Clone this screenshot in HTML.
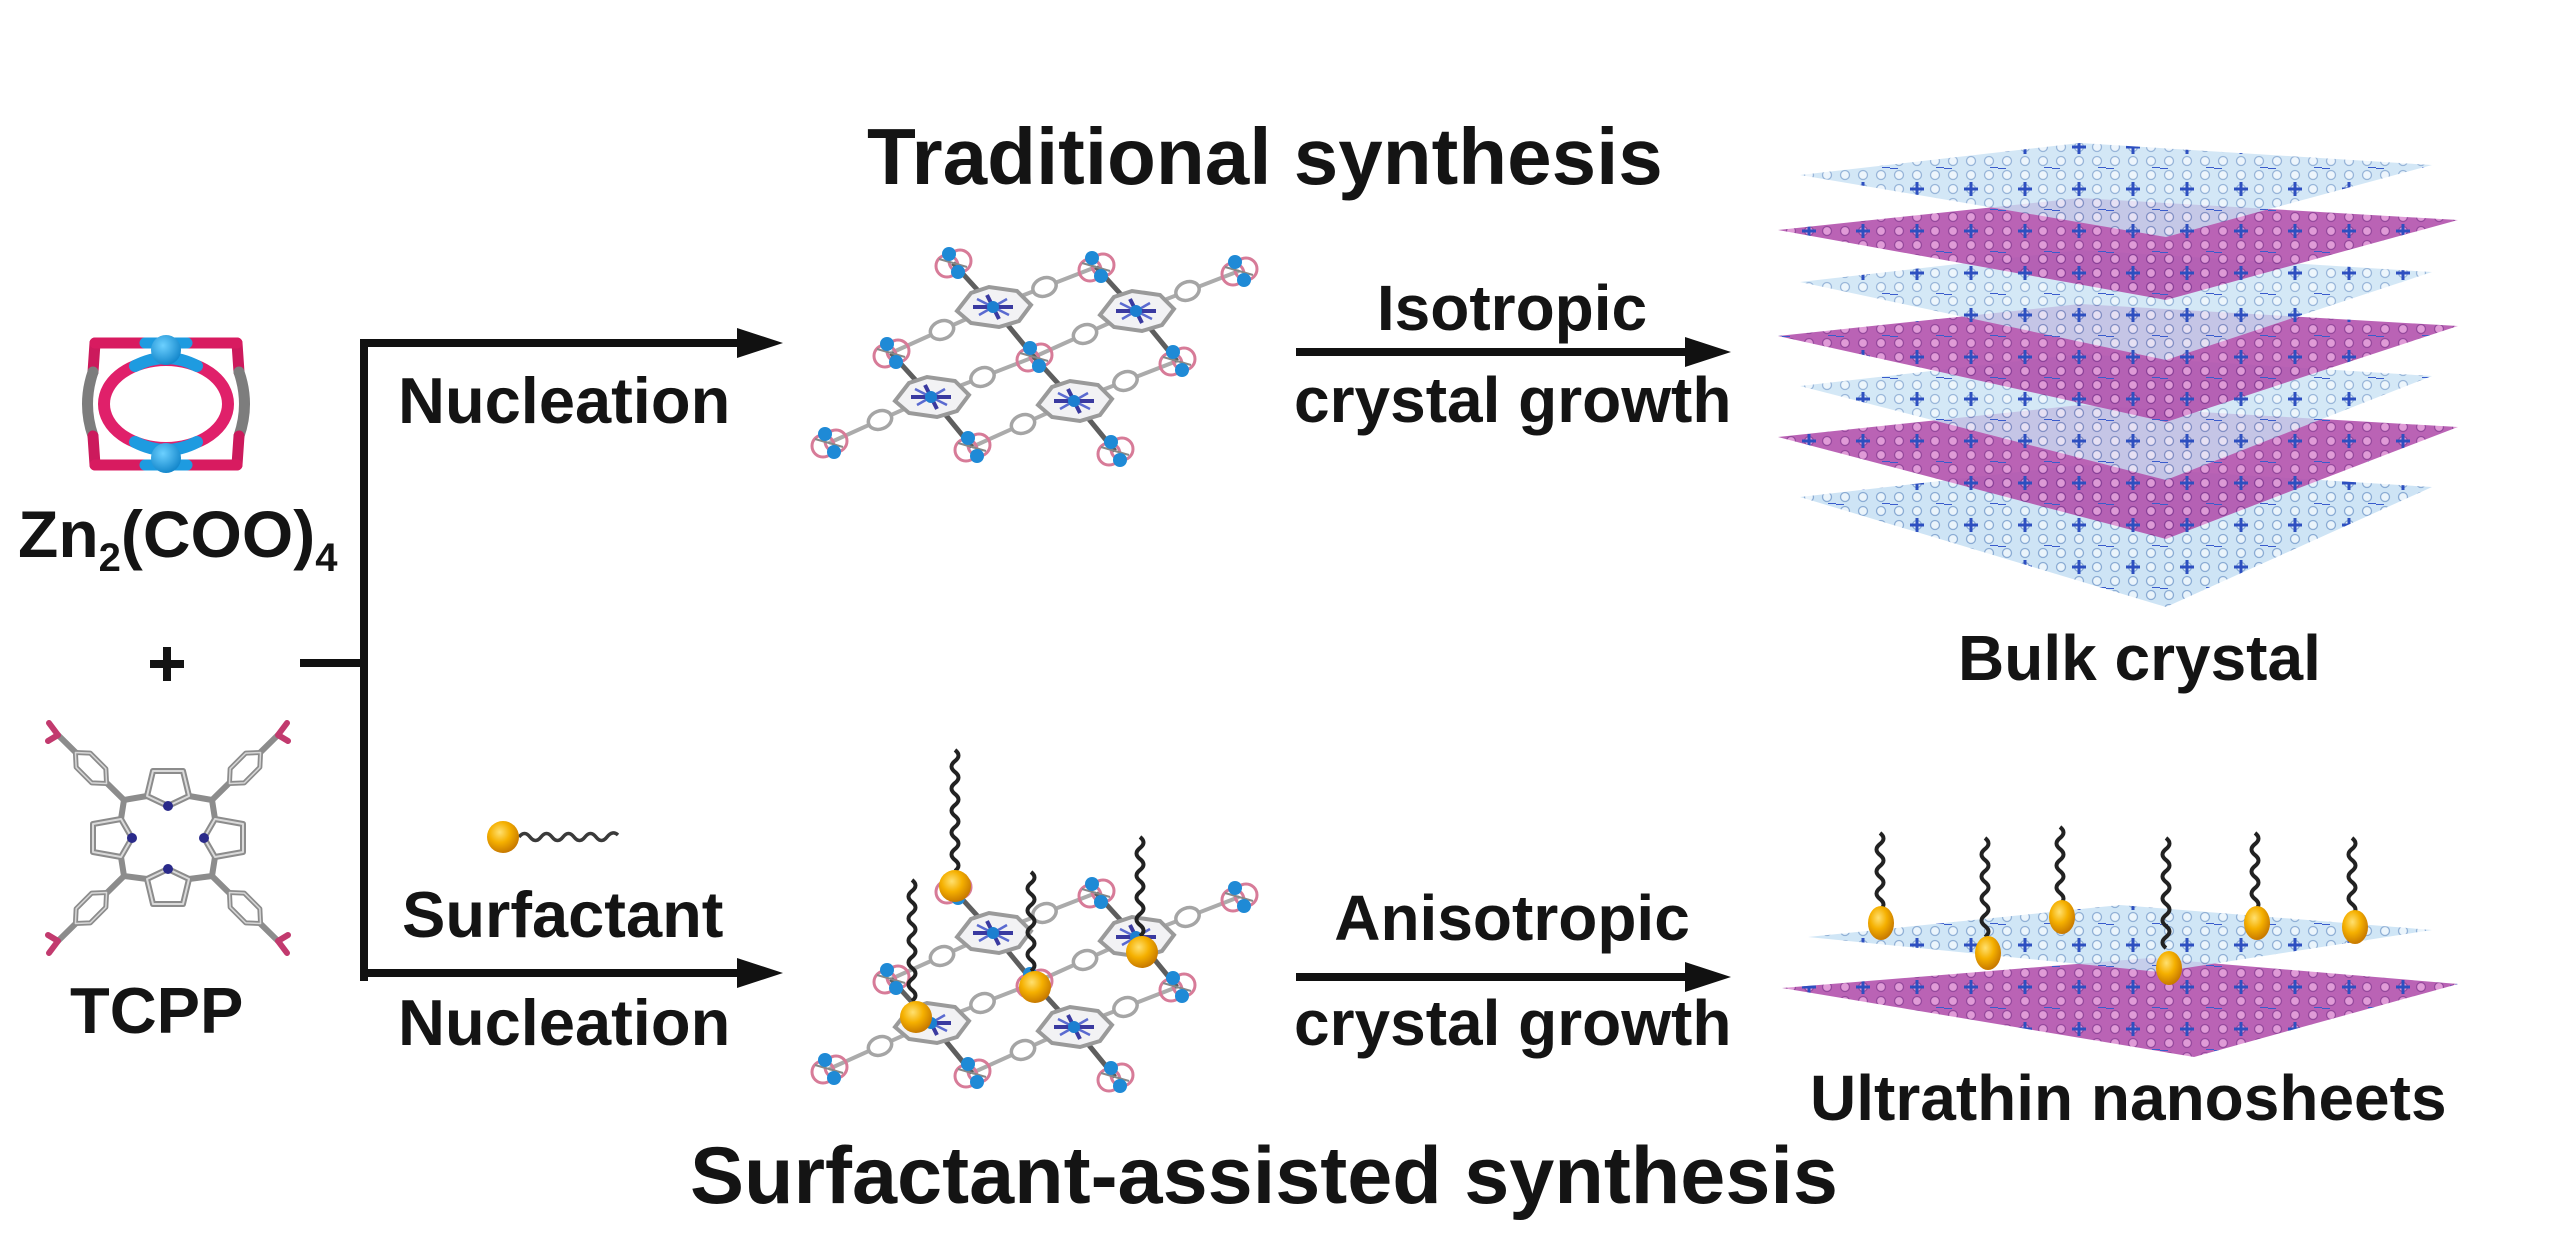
<!DOCTYPE html>
<html>
<head>
<meta charset="utf-8">
<style>
html,body{margin:0;padding:0;background:#fff;}
body{width:2560px;height:1250px;overflow:hidden;}
svg{display:block;}
text{font-family:"Liberation Sans",Arial,sans-serif;font-weight:bold;fill:#141414;}
</style>
</head>
<body>
<svg width="2560" height="1250" viewBox="0 0 2560 1250" xmlns="http://www.w3.org/2000/svg">
<defs>
  <radialGradient id="gold" cx="40%" cy="35%" r="65%">
    <stop offset="0" stop-color="#ffe070"/>
    <stop offset="0.5" stop-color="#f5b000"/>
    <stop offset="1" stop-color="#c87a00"/>
  </radialGradient>
  <radialGradient id="zn" cx="40%" cy="35%" r="65%">
    <stop offset="0" stop-color="#6cd0ff"/>
    <stop offset="1" stop-color="#1588cc"/>
  </radialGradient>
  <pattern id="pkp" width="18" height="14" patternUnits="userSpaceOnUse">
    <rect width="18" height="14" fill="#b252ad"/>
    <circle cx="9" cy="7" r="4.5" fill="#dc90d2" stroke="#8a3592" stroke-width="1.3"/>
  </pattern>
  <pattern id="blp" width="18" height="14" patternUnits="userSpaceOnUse">
    <rect width="18" height="14" fill="#c8e1f4"/>
    <circle cx="9" cy="7" r="4.5" fill="#e8f3fb" stroke="#7ea3cf" stroke-width="1.3"/>
  </pattern>
  <pattern id="bxp" width="54" height="42" patternUnits="userSpaceOnUse">
    <path d="M20,21 L34,21 M27,14 L27,28" stroke="#2d4fc0" stroke-width="3"/>
    <path d="M0,0 L8,0 M46,42 L54,42" stroke="#3a5ccc" stroke-width="2"/>
  </pattern>

  <g id="pw">
    <circle cx="-6" cy="3" r="11" fill="none" stroke="#d77b98" stroke-width="3"/>
    <circle cx="7" cy="-2" r="11" fill="none" stroke="#d77b98" stroke-width="3"/>
    <path d="M-14,-4 L14,4" stroke="#888" stroke-width="2"/>
    <circle cx="-4" cy="-9" r="7" fill="#1f8ad6"/>
    <circle cx="5" cy="9" r="7" fill="#1f8ad6"/>
  </g>
  <g id="por">
    <path d="M-36,4 L-22,-14 L-4,-20 L24,-16 L38,-2 L26,14 L6,20 L-22,16 Z" fill="#f2f2f4" stroke="#9a9a9a" stroke-width="4"/>
    <path d="M-20,0 L20,0 M-6,-12 L6,12" stroke="#3a3aa0" stroke-width="4"/>
    <path d="M-16,-8 L16,8 M-14,8 L14,-8" stroke="#5a6ad0" stroke-width="2.5"/>
    <circle r="6" fill="#1c7fd0"/>
  </g>
  <g id="ring">
    <ellipse rx="12" ry="9" transform="rotate(-21)" fill="#fff" stroke="#a5a5a5" stroke-width="3.5"/>
  </g>
  <g id="nuc">
    <path d="M0,0 L103,-40 M0,0 L-102,46 M143,4 L246,-36 M143,4 L41,50 M-62,90 L41,50 M-62,90 L-164,136 M81,94 L184,54 M81,94 L-21,140" stroke="#ababab" stroke-width="4" fill="none"/>
    <path d="M0,0 L-40,-44 M0,0 L41,50 M143,4 L103,-40 M143,4 L184,54 M-62,90 L-102,46 M-62,90 L-21,140 M81,94 L41,50 M81,94 L122,144" stroke="#5e5e5e" stroke-width="5" fill="none"/>
    <use href="#ring" x="51.5" y="-20"/>
    <use href="#ring" x="-51" y="23"/>
    <use href="#ring" x="194.5" y="-16"/>
    <use href="#ring" x="92" y="27"/>
    <use href="#ring" x="-10.5" y="70"/>
    <use href="#ring" x="-113" y="113"/>
    <use href="#ring" x="132.5" y="74"/>
    <use href="#ring" x="30" y="117"/>
    <use href="#por" x="0" y="0"/>
    <use href="#por" x="143" y="4"/>
    <use href="#por" x="-62" y="90"/>
    <use href="#por" x="81" y="94"/>
    <use href="#pw" x="-40" y="-44"/>
    <use href="#pw" x="103" y="-40"/>
    <use href="#pw" x="246" y="-36"/>
    <use href="#pw" x="-102" y="46"/>
    <use href="#pw" x="41" y="50"/>
    <use href="#pw" x="184" y="54"/>
    <use href="#pw" x="-164" y="136"/>
    <use href="#pw" x="-21" y="140"/>
    <use href="#pw" x="122" y="144"/>
  </g>
  <polygon id="hex" points="-22,0 -11,-10 11,-10 22,0 11,10 -11,10"/>
</defs>

<!-- ===== Titles ===== -->
<text x="867" y="184" font-size="80">Traditional synthesis</text>
<text x="690" y="1203" font-size="81">Surfactant-assisted synthesis</text>

<!-- ===== Zn2(COO)4 paddle wheel icon ===== -->
<g fill="none" stroke-linecap="round">
  <path d="M95,343 L93,372" stroke="#cc1a5c" stroke-width="11"/>
  <path d="M93,372 Q82,404 93,436" stroke="#7d7d7d" stroke-width="11"/>
  <path d="M93,436 L95,465" stroke="#cc1a5c" stroke-width="11"/>
  <path d="M237,343 L239,372" stroke="#cc1a5c" stroke-width="11"/>
  <path d="M239,372 Q250,404 239,436" stroke="#7d7d7d" stroke-width="11"/>
  <path d="M239,436 L237,465" stroke="#cc1a5c" stroke-width="11"/>
  <path d="M95,343 L145,343 M187,343 L237,343" stroke="#d81b60" stroke-width="11"/>
  <path d="M145,343 L187,343" stroke="#1e9be0" stroke-width="11"/>
  <path d="M95,465 L145,465 M187,465 L237,465" stroke="#d81b60" stroke-width="11"/>
  <path d="M145,465 L187,465" stroke="#1e9be0" stroke-width="11"/>
  <ellipse cx="166" cy="404" rx="62" ry="44" stroke="#e0206a" stroke-width="12"/>
  <path d="M135,366 Q166,350 197,366" stroke="#1e9be0" stroke-width="12"/>
  <path d="M135,442 Q166,458 197,442" stroke="#1e9be0" stroke-width="12"/>
</g>
<circle cx="166" cy="350" r="15" fill="url(#zn)"/>
<circle cx="166" cy="458" r="15" fill="url(#zn)"/>

<text x="18" y="557" font-size="66">Zn<tspan font-size="40" dy="14">2</tspan><tspan dy="-14">(COO)</tspan><tspan font-size="40" dy="14">4</tspan></text>

<!-- plus sign -->
<rect x="150" y="660" width="34" height="8" fill="#141414"/>
<rect x="163" y="647" width="8" height="34" fill="#141414"/>

<!-- ===== TCPP molecule ===== -->
<g fill="none" stroke-linejoin="round" stroke-linecap="round">
  <g stroke="#8c8c8c" stroke-width="6">
    <path d="M168,806 L147,796 L153,771 L183,771 L189,796 Z"/>
    <path d="M168,869 L147,879 L153,904 L183,904 L189,879 Z"/>
    <path d="M132,838 L121,819 L93,824 L93,852 L121,857 Z"/>
    <path d="M204,838 L215,819 L243,824 L243,852 L215,857 Z"/>
    <path d="M147,796 L124,800 L121,819 M189,796 L212,800 L215,819 M147,879 L124,876 L121,857 M189,879 L212,876 L215,857"/>
    <path d="M124,800 L58,735 M212,800 L278,735 M124,876 L58,941 M212,876 L278,941"/>
  </g>
  <g stroke="#dadada" stroke-width="2">
    <path d="M168,806 L147,796 L153,771 L183,771 L189,796 Z"/>
    <path d="M168,869 L147,879 L153,904 L183,904 L189,879 Z"/>
    <path d="M132,838 L121,819 L93,824 L93,852 L121,857 Z"/>
    <path d="M204,838 L215,819 L243,824 L243,852 L215,857 Z"/>
  </g>
  <g fill="#fff" stroke="#8c8c8c" stroke-width="5">
    <use href="#hex" transform="translate(91,768) rotate(45)"/>
    <use href="#hex" transform="translate(245,768) rotate(-45)"/>
    <use href="#hex" transform="translate(91,908) rotate(-45)"/>
    <use href="#hex" transform="translate(245,908) rotate(45)"/>
  </g>
  <g fill="none" stroke="#d8d8d8" stroke-width="1.5">
    <use href="#hex" transform="translate(91,768) rotate(45)"/>
    <use href="#hex" transform="translate(245,768) rotate(-45)"/>
    <use href="#hex" transform="translate(91,908) rotate(-45)"/>
    <use href="#hex" transform="translate(245,908) rotate(45)"/>
  </g>
  <g stroke="#c23a6e" stroke-width="6">
    <path d="M58,735 L49,723 M58,735 L48,741 M278,735 L287,723 M278,735 L288,741"/>
    <path d="M58,941 L48,935 M58,941 L49,953 M278,941 L288,935 M278,941 L287,953"/>
  </g>
</g>
<g fill="#2a2a8a">
  <circle cx="168" cy="806" r="5"/><circle cx="168" cy="869" r="5"/>
  <circle cx="132" cy="838" r="5"/><circle cx="204" cy="838" r="5"/>
</g>

<text x="70" y="1033" font-size="65">TCPP</text>

<!-- ===== Left connectors / arrows ===== -->
<rect x="300" y="659" width="68" height="8" fill="#111"/>
<rect x="360" y="339" width="8" height="642" fill="#111"/>
<rect x="360" y="339" width="382" height="8" fill="#111"/>
<polygon points="737,328 783,343 737,358" fill="#111"/>
<rect x="360" y="969" width="382" height="8" fill="#111"/>
<polygon points="737,958 783,973 737,988" fill="#111"/>

<text x="398" y="423" font-size="65">Nucleation</text>
<text x="402" y="937" font-size="65">Surfactant</text>
<text x="398" y="1045" font-size="65">Nucleation</text>

<!-- surfactant icon -->
<path d="M519,837 q5.5,-7 11,0 t11,0 t11,0 t11,0 t11,0 t11,0 t11,0 t11,0 t11,-2" fill="none" stroke="#3a3a3a" stroke-width="3.5"/>
<circle cx="503" cy="837" r="16" fill="url(#gold)"/>

<!-- ===== Nuclei ===== -->
<use href="#nuc" x="993" y="307"/>
<use href="#nuc" x="993" y="933"/>

<!-- surfactant on bottom nucleus -->
<g fill="none" stroke="#222" stroke-width="4">
  <path d="M955,750 q7,5.5 0,11 t0,11 t0,11 t0,11 t0,11 t0,11 t0,11 t0,11 t0,11 t0,11 t0,11"/>
  <path d="M1140,837 q7,5.5 0,11 t0,11 t0,11 t0,11 t0,11 t0,11 t0,11 t0,11 t0,11"/>
  <path d="M1031,872 q7,5.5 0,11 t0,11 t0,11 t0,11 t0,11 t0,11 t0,11 t0,11 t0,11"/>
  <path d="M912,880 q7,5.5 0,11 t0,11 t0,11 t0,11 t0,11 t0,11 t0,11 t0,11 t0,11 t0,11 t0,11"/>
</g>
<circle cx="955" cy="886" r="16" fill="url(#gold)"/>
<circle cx="1142" cy="952" r="16" fill="url(#gold)"/>
<circle cx="1035" cy="987" r="16" fill="url(#gold)"/>
<circle cx="916" cy="1017" r="16" fill="url(#gold)"/>

<!-- ===== Right arrows ===== -->
<text x="1512" y="330" font-size="64" text-anchor="middle">Isotropic</text>
<rect x="1296" y="348" width="392" height="8" fill="#111"/>
<polygon points="1685,337 1731,352 1685,367" fill="#111"/>
<text x="1294" y="422" font-size="64">crystal growth</text>

<text x="1512" y="940" font-size="64" text-anchor="middle">Anisotropic</text>
<rect x="1296" y="973" width="392" height="8" fill="#111"/>
<polygon points="1685,962 1731,977 1685,992" fill="#111"/>
<text x="1294" y="1045" font-size="64">crystal growth</text>

<!-- ===== Bulk crystal ===== -->
<g>
  <polygon points="1800,497 2080,465 2432,487 2166,607" fill="url(#blp)" opacity="0.9"/>
  <polygon points="1800,497 2080,465 2432,487 2166,607" fill="url(#bxp)"/>
  <polygon points="1778,437 2080,405 2458,427 2166,539" fill="url(#pkp)" opacity="0.9"/>
  <polygon points="1778,437 2080,405 2458,427 2166,539" fill="url(#bxp)"/>
  <polygon points="1800,386 2080,354 2432,376 2166,480" fill="url(#blp)" opacity="0.78"/>
  <polygon points="1800,386 2080,354 2432,376 2166,480" fill="url(#bxp)"/>
  <polygon points="1778,336 2080,304 2458,326 2166,422" fill="url(#pkp)" opacity="0.9"/>
  <polygon points="1778,336 2080,304 2458,326 2166,422" fill="url(#bxp)"/>
  <polygon points="1800,282 2080,250 2432,272 2166,360" fill="url(#blp)" opacity="0.78"/>
  <polygon points="1800,282 2080,250 2432,272 2166,360" fill="url(#bxp)"/>
  <polygon points="1778,230 2080,198 2458,220 2166,300" fill="url(#pkp)" opacity="0.9"/>
  <polygon points="1778,230 2080,198 2458,220 2166,300" fill="url(#bxp)"/>
  <polygon points="1800,175 2080,143 2432,165 2166,237" fill="url(#blp)" opacity="0.8"/>
  <polygon points="1800,175 2080,143 2432,165 2166,237" fill="url(#bxp)"/>
</g>
<text x="1958" y="680" font-size="64">Bulk crystal</text>

<!-- ===== Nanosheets ===== -->
<polygon points="1782,988 2150,958 2458,984 2194,1057" fill="url(#pkp)" opacity="0.9"/>
<polygon points="1782,988 2150,958 2458,984 2194,1057" fill="url(#bxp)"/>
<polygon points="1808,937 2120,905 2432,930 2160,972" fill="url(#blp)" opacity="0.85"/>
<polygon points="1808,937 2120,905 2432,930 2160,972" fill="url(#bxp)"/>
<g fill="none" stroke="#222" stroke-width="4">
  <path d="M1880,833 q7,5.5 0,11 t0,11 t0,11 t0,11 t0,11 t0,11 t0,11"/>
  <path d="M1985,838 q7,5.5 0,11 t0,11 t0,11 t0,11 t0,11 t0,11 t0,11 t0,11 t0,11"/>
  <path d="M2060,827 q7,5.5 0,11 t0,11 t0,11 t0,11 t0,11 t0,11 t0,11"/>
  <path d="M2166,838 q7,5.5 0,11 t0,11 t0,11 t0,11 t0,11 t0,11 t0,11 t0,11 t0,11 t0,11"/>
  <path d="M2255,833 q7,5.5 0,11 t0,11 t0,11 t0,11 t0,11 t0,11 t0,11"/>
  <path d="M2352,838 q7,5.5 0,11 t0,11 t0,11 t0,11 t0,11 t0,11 t0,11"/>
</g>
<ellipse cx="1881" cy="923" rx="13" ry="17" fill="url(#gold)"/>
<ellipse cx="1988" cy="953" rx="13" ry="17" fill="url(#gold)"/>
<ellipse cx="2062" cy="917" rx="13" ry="17" fill="url(#gold)"/>
<ellipse cx="2169" cy="968" rx="13" ry="17" fill="url(#gold)"/>
<ellipse cx="2257" cy="923" rx="13" ry="17" fill="url(#gold)"/>
<ellipse cx="2355" cy="927" rx="13" ry="17" fill="url(#gold)"/>
<text x="1810" y="1120" font-size="64">Ultrathin nanosheets</text>

</svg>
</body>
</html>
